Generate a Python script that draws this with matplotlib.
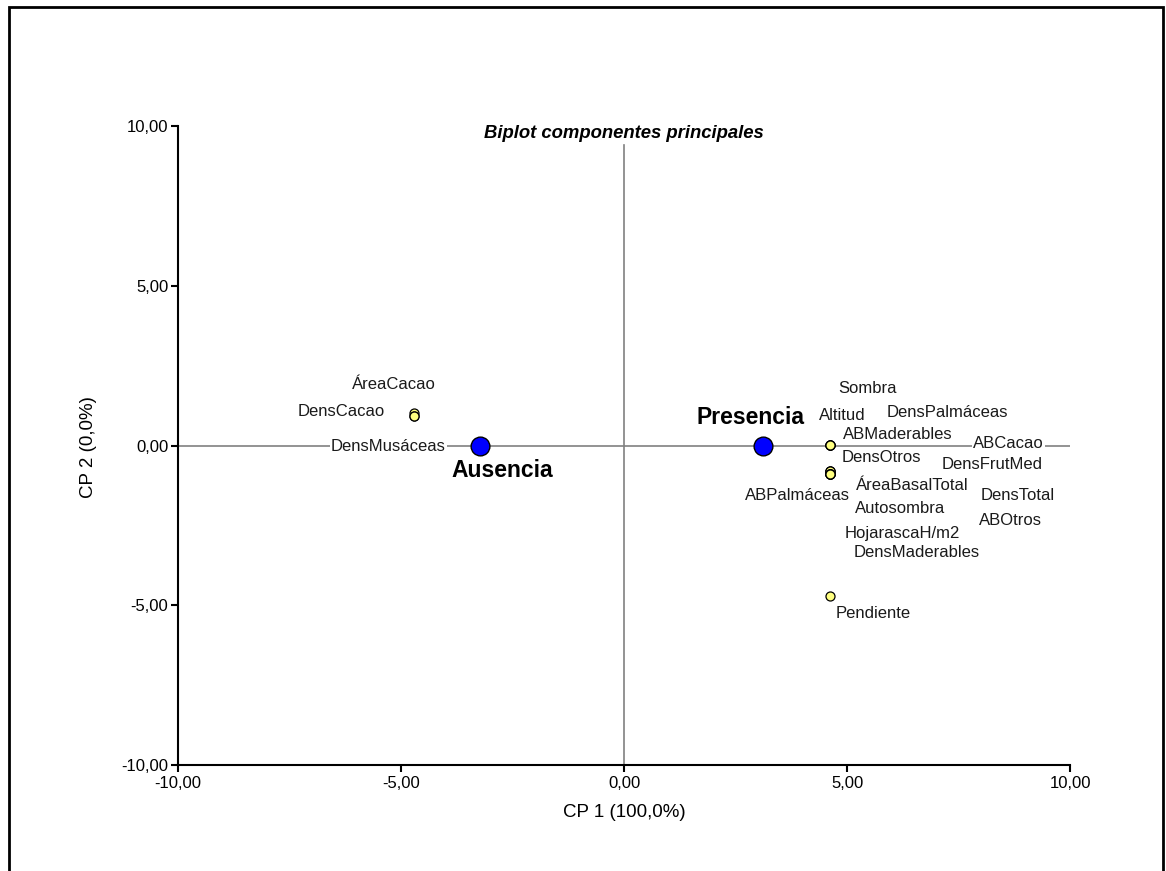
"""Biplot of the first two principal components (presence vs. absence)."""

from __future__ import annotations

import matplotlib

matplotlib.use("Agg")
import matplotlib.pyplot as plt
from matplotlib.patches import Rectangle
from matplotlib.ticker import FuncFormatter

# group scores on CP 1 / CP 2
group_names = ["Ausencia", "Presencia"]
group_x = [-3.22, 3.12]
group_y = [0.0, 0.0]

# variable scores on CP 1 / CP 2
var_names = [
    "ÁreaCacao", "DensCacao", "DensMusáceas",
    "Sombra", "Altitud", "DensPalmáceas", "ABMaderables", "ABCacao",
    "DensOtros", "DensFrutMed", "ÁreaBasalTotal", "ABPalmáceas", "DensTotal",
    "Autosombra", "ABOtros", "HojarascaH/m2", "DensMaderables", "Pendiente",
]
var_x = [
    -4.72, -4.72, -4.72,
    4.62, 4.62, 4.62, 4.62, 4.62,
    4.62, 4.62, 4.62, 4.62, 4.62,
    4.62, 4.62, 4.62, 4.62, 4.62,
]
var_y = [
    1.02, 0.93, 0.93,
    0.03, 0.03, 0.03, 0.03, 0.03,
    -0.80, -0.80, -0.80, -0.88, -0.88,
    -0.88, -0.88, -0.88, -0.88, -4.72,
]

x_label = "CP 1 (100,0%)"
y_label = "CP 2 (0,0%)"
title = "Biplot componentes principales"
ticks = [-10, -5, 0, 5, 10]

# where each label sits (data units), kept apart so the names don't collide
var_label_pos = [
    (-5.17, 1.92), (-6.35, 1.08), (-5.28, -0.02),
    (5.46, 1.77), (4.89, 0.95), (7.26, 1.02), (6.14, 0.33), (8.62, 0.05),
    (5.76, -0.36), (8.26, -0.58), (6.47, -1.24), (3.89, -1.55), (8.82, -1.58),
    (6.20, -1.96), (8.67, -2.36), (6.24, -2.74), (6.56, -3.36), (5.59, -5.27),
]
group_label_pos = [(-2.74, -0.77), (2.83, 0.89)]
on_axis_labels = {"DensMusáceas", "ABCacao"}


def comma_fmt(v, _pos):
    return f"{v:.2f}".replace(".", ",")


def main() -> None:
    plt.rcParams["font.family"] = ["Liberation Sans", "DejaVu Sans"]

    fig = plt.figure(figsize=(11.66, 8.71), dpi=100)
    ax = fig.add_axes([0.1527, 0.1217, 0.7650, 0.7336])

    # outer frame around the whole figure
    fig.patches.append(
        Rectangle((8.5 / 1166, -0.05), (1163 - 8.5) / 1166, 1 - 7 / 871 + 0.05,
                  transform=fig.transFigure, fill=False, edgecolor="black", linewidth=2)
    )

    ax.set_xlim(-10, 10)
    ax.set_ylim(-10, 10)

    # reference lines through the origin
    ax.plot([-10, 10], [0, 0], color="#808080", linewidth=1.2, zorder=1)
    ax.plot([0, 0], [-10, 9.4], color="#808080", linewidth=1.2, zorder=1)

    ax.plot(var_x, var_y, linestyle="none", marker="o", markersize=6.5,
            markerfacecolor="#FFFF80", markeredgecolor="black",
            markeredgewidth=0.9, zorder=3)
    ax.plot(group_x, group_y, linestyle="none", marker="o", markersize=13.5,
            markerfacecolor="#0000FF", markeredgecolor="black",
            markeredgewidth=1.0, zorder=4)

    for name, (lx, ly) in zip(var_names, var_label_pos):
        bbox = None
        if name in on_axis_labels:
            bbox = dict(facecolor="white", edgecolor="none", pad=1.0)
        ax.text(lx, ly, name, ha="center", va="center", fontsize=12,
                color="#1a1a1a", bbox=bbox, zorder=5)

    for name, (lx, ly) in zip(group_names, group_label_pos):
        ax.text(lx, ly, name, ha="center", va="center", fontsize=16.5,
                fontweight="bold", color="black", zorder=5)

    ax.text(0.5, 0.989, title, transform=ax.transAxes, ha="center", va="center",
            fontsize=13.3, fontweight="bold", fontstyle="italic")

    ax.spines["top"].set_visible(False)
    ax.spines["right"].set_visible(False)
    for side in ("left", "bottom"):
        ax.spines[side].set_linewidth(1.5)

    ax.set_xticks(ticks)
    ax.set_yticks(ticks)
    ax.xaxis.set_major_formatter(FuncFormatter(comma_fmt))
    ax.yaxis.set_major_formatter(FuncFormatter(comma_fmt))
    ax.tick_params(axis="both", direction="out", length=5, width=1.5,
                   labelsize=12, colors="black")
    ax.tick_params(axis="x", pad=3)
    ax.tick_params(axis="y", pad=2)

    ax.set_xlabel(x_label, fontsize=13.5, va="center")
    ax.set_ylabel(y_label, fontsize=13.5, va="center")
    ax.xaxis.set_label_coords(0.5, -0.0736)
    ax.yaxis.set_label_coords(-0.1009, 0.498)

    fig.savefig("out.png", dpi=100)
    plt.close(fig)


if __name__ == "__main__":
    main()
